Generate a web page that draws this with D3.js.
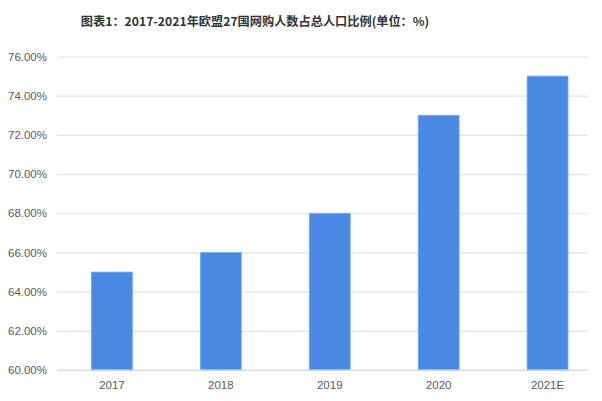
<!DOCTYPE html>
<html><head><meta charset="utf-8">
<script src="https://cdn.jsdelivr.net/npm/d3@7"></script>
<style>body{margin:0;background:#fff;}svg{display:block;}</style>
</head><body>
<svg id="c" width="602" height="401"></svg>
<script>
const categories = ["2017","2018","2019","2020","2021E"];
const values = [65, 66, 68, 73, 75];
const yTicks = [60,62,64,66,68,70,72,74,76];
const title = "图表1：2017-2021年欧盟27国网购人数占总人口比例(单位：%)";

const svg = d3.select("#c");
const x = d3.scaleBand().domain(categories).range([57.5, 602]).paddingInner(0.624).paddingOuter(0.312);
const y = d3.scaleLinear().domain([60, 76]).range([370, 56.5]);
const gridX0 = 57, gridX1 = 588;

svg.append("text").attr("x", 255).attr("y", 26).attr("text-anchor","middle")
  .attr("font-family","'Noto Sans CJK SC', sans-serif").attr("font-weight","bold")
  .attr("font-size", 12.2).attr("fill","#333").text(title);

const gy = svg.append("g").attr("transform", `translate(${gridX0},0)`)
  .call(d3.axisLeft(y).tickValues(yTicks).tickSize(-(gridX1-gridX0)).tickPadding(10)
    .tickFormat(d => d.toFixed(2) + "%"));
gy.select(".domain").remove();
gy.selectAll(".tick line").attr("stroke","#e3e3e3").attr("stroke-width",1.2);
gy.selectAll(".tick text").attr("font-family","'Liberation Sans', Arial, sans-serif")
  .attr("font-size", 11.5).attr("fill","#595959");

svg.append("g").selectAll("rect").data(values).join("rect")
  .attr("x",(d,i)=>x(categories[i])).attr("width", x.bandwidth())
  .attr("y", d=>y(d)).attr("height", d=>y(60)-y(d))
  .attr("fill","#4a89e3").attr("stroke","#7aaef0").attr("stroke-width",0.8);

svg.append("line").attr("x1",gridX0).attr("x2",gridX1).attr("y1",y(60)).attr("y2",y(60))
  .attr("stroke","#d9d9d9").attr("stroke-width",1.2);

const gx = svg.append("g").attr("transform",`translate(0,${y(60)})`)
  .call(d3.axisBottom(x).tickSize(0).tickPadding(11));
gx.select(".domain").remove();
gx.selectAll(".tick text").attr("font-family","'Liberation Sans', Arial, sans-serif")
  .attr("font-size", 11.5).attr("fill","#595959");
</script>
</body></html>
